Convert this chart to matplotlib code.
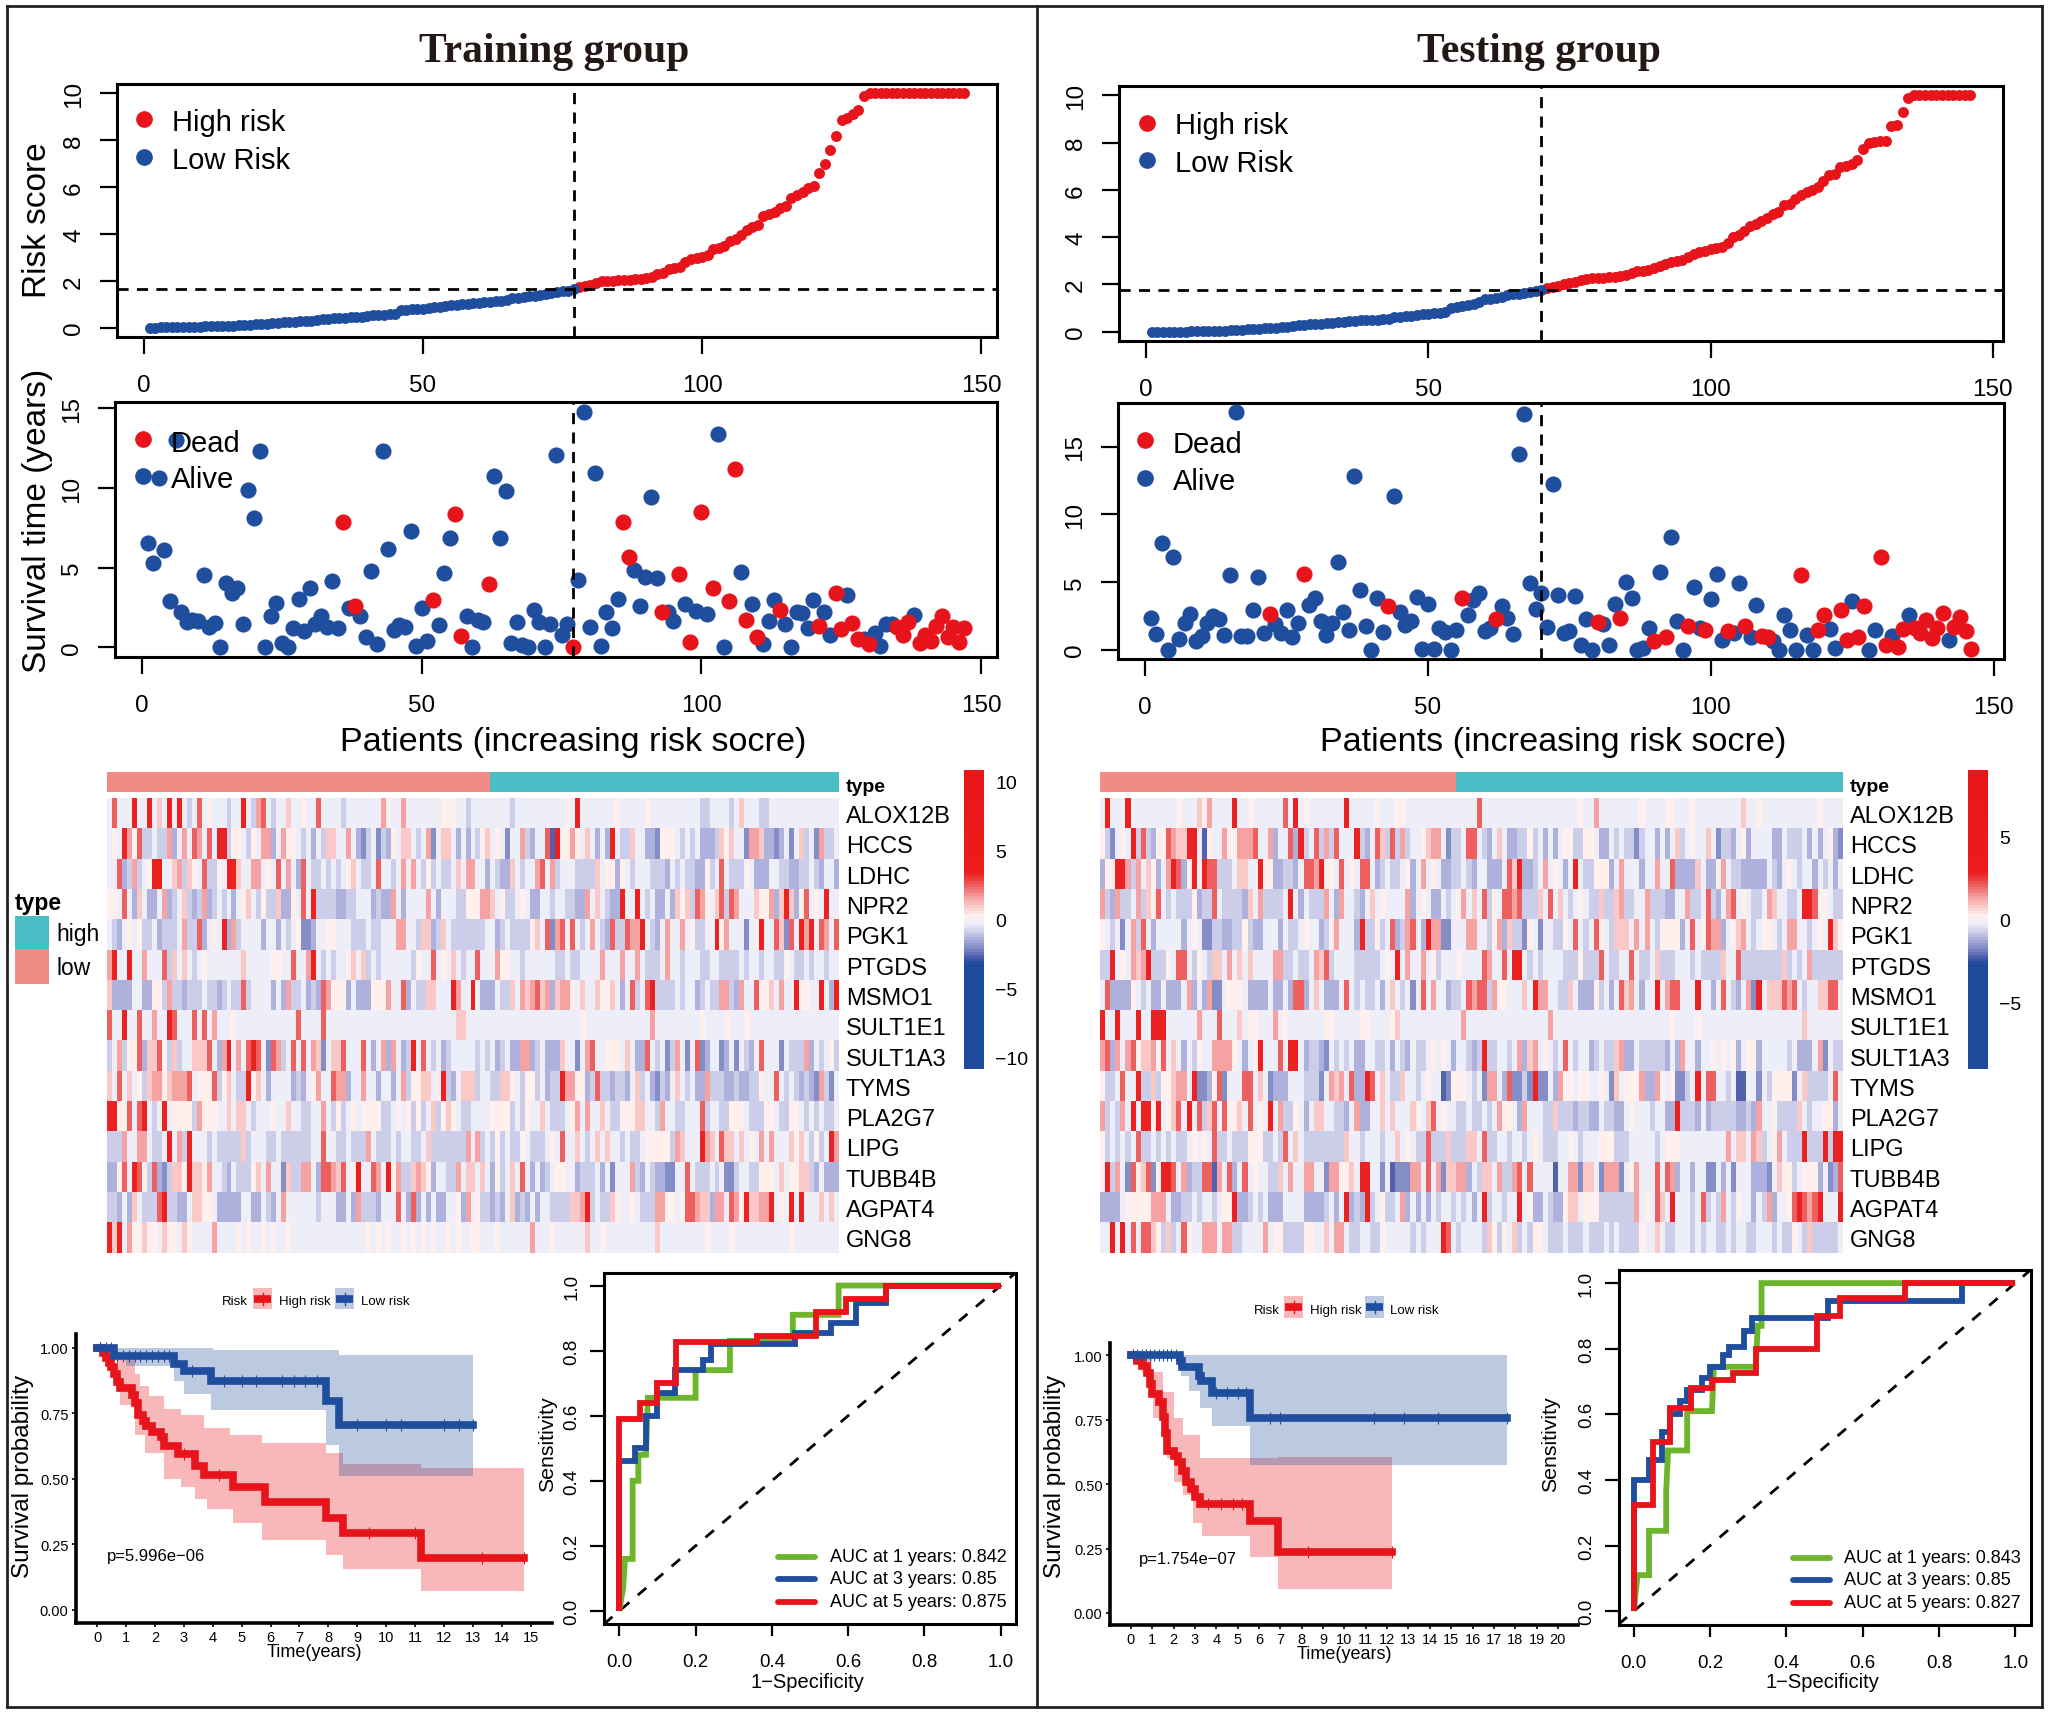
import numpy as np
import matplotlib
matplotlib.use('Agg')
import matplotlib.pyplot as plt
from matplotlib.colors import LinearSegmentedColormap
from matplotlib.lines import Line2D
from matplotlib.patches import Rectangle

plt.rcParams['font.family'] = ['Liberation Sans', 'DejaVu Sans']

W, H = 2050, 1715
RED = '#E8141C'
BLUE = '#1F4E9E'
GREEN = '#6CB52D'

genes = ['ALOX12B', 'HCCS', 'LDHC', 'NPR2', 'PGK1', 'PTGDS', 'MSMO1', 'SULT1E1',
         'SULT1A3', 'TYMS', 'PLA2G7', 'LIPG', 'TUBB4B', 'AGPAT4', 'GNG8']

# risk score curves, one value per patient
train_risk = [0.00, 0.00, 0.01, 0.01, 0.01, 0.02, 0.02, 0.03, 0.03, 0.04,
              0.05, 0.05, 0.06, 0.07, 0.08, 0.09, 0.10, 0.11, 0.12, 0.14,
              0.15, 0.17, 0.18, 0.20, 0.22, 0.24, 0.25, 0.27, 0.28, 0.30,
              0.33, 0.35, 0.37, 0.39, 0.41, 0.43, 0.44, 0.46, 0.47, 0.49,
              0.52, 0.54, 0.56, 0.58, 0.60, 0.74, 0.76, 0.78, 0.79, 0.80,
              0.85, 0.88, 0.90, 0.92, 0.95, 0.98, 1.00, 1.03, 1.05, 1.07,
              1.09, 1.10, 1.12, 1.15, 1.18, 1.25, 1.28, 1.30, 1.33, 1.36,
              1.40, 1.44, 1.48, 1.52, 1.55, 1.58, 1.63,
              1.72, 1.78, 1.84, 1.90, 1.98, 2.00, 2.01, 2.02, 2.03, 2.04,
              2.06, 2.08, 2.12, 2.18, 2.28, 2.32, 2.50, 2.55, 2.60, 2.80,
              2.92, 2.98, 3.02, 3.10, 3.35, 3.40, 3.50, 3.70, 3.80, 3.95,
              4.15, 4.30, 4.40, 4.78, 4.85, 4.95, 5.10, 5.20, 5.55, 5.65,
              5.80, 5.95, 6.03, 6.60, 7.00, 7.60, 8.20, 8.88, 8.95, 9.10,
              9.30, 9.90, 10, 10, 10, 10, 10, 10, 10, 10, 10, 10, 10, 10, 10, 10, 10, 10, 10, 10]
test_risk = [0.00, 0.00, 0.00, 0.00, 0.00, 0.00, 0.00, 0.01, 0.01, 0.01,
             0.02, 0.02, 0.03, 0.04, 0.05, 0.07, 0.08, 0.09, 0.10, 0.11,
             0.13, 0.15, 0.17, 0.19, 0.21, 0.23, 0.26, 0.28, 0.30, 0.32,
             0.34, 0.36, 0.38, 0.40, 0.42, 0.44, 0.46, 0.48, 0.49, 0.50,
             0.51, 0.52, 0.53, 0.60, 0.63, 0.66, 0.68, 0.71, 0.74, 0.76,
             0.78, 0.80, 0.84, 0.98, 1.06, 1.09, 1.12, 1.18, 1.26, 1.36,
             1.40, 1.43, 1.48, 1.55, 1.58, 1.60, 1.63, 1.66, 1.70, 1.74,
             1.84, 1.90, 1.95, 2.00, 2.05, 2.12, 2.18, 2.22, 2.25, 2.27,
             2.28, 2.30, 2.32, 2.36, 2.40, 2.46, 2.55, 2.58, 2.62, 2.70,
             2.78, 2.88, 2.95, 2.98, 3.05, 3.15, 3.28, 3.35, 3.42, 3.48,
             3.52, 3.58, 3.75, 4.02, 4.08, 4.25, 4.48, 4.55, 4.68, 4.80,
             5.00, 5.05, 5.35, 5.42, 5.60, 5.78, 5.92, 5.98, 6.12, 6.38,
             6.62, 6.68, 6.95, 7.02, 7.10, 7.28, 7.72, 8.00, 8.02, 8.05,
             8.06, 8.70, 8.75, 9.30, 9.90, 10, 10, 10, 10, 10, 10, 10, 10, 10, 10, 10]
train_cut_patient, train_cut_score = 77, 1.63
test_cut_patient, test_cut_score = 70, 1.74

# survival time per patient and which patients died
train_time = [6.55, 5.3, 10.65, 6.1, 2.9, 13.0, 2.2, 1.6, 1.7, 1.65,
              4.55, 1.3, 1.55, 0.05, 4.05, 3.4, 3.7, 1.5, 9.9, 8.1,
              12.3, 0, 2.0, 2.8, 0.3, 0, 1.2, 3.05, 1.05, 3.7,
              1.45, 2.0, 1.3, 4.2, 1.25, 7.85, 2.5, 2.6, 2.0, 0.65,
              4.8, 0.2, 12.3, 6.15, 1.1, 1.4, 1.3, 7.3, 0.1, 2.45,
              0.4, 2.95, 1.4, 4.7, 6.85, 8.35, 0.7, 2.0, 0, 1.75,
              1.6, 3.95, 10.75, 6.85, 9.8, 0.3, 1.6, 0.15, 0.05, 2.35,
              1.6, 0.05, 1.5, 12.05, 0.75, 1.5, 0.05, 4.25, 14.8, 1.3,
              10.95, 0.1, 2.25, 1.2, 3.05, 7.9, 5.7, 4.85, 2.6, 4.45,
              9.45, 4.35, 2.25, 2.25, 1.65, 4.6, 2.75, 0.35, 2.3, 8.5,
              2.1, 3.75, 13.4, 0.05, 2.9, 11.2, 4.75, 1.75, 2.7, 0.65,
              0.2, 1.65, 3.0, 2.35, 1.45, 0.05, 2.2, 2.15, 1.25, 2.95,
              1.35, 2.25, 0.75, 3.4, 1.15, 3.3, 1.55, 0.55, 0.55, 0.2,
              0.9, 0.1, 1.45, 1.45, 1.3, 0.8, 1.6, 2.05, 0.25, 0.8,
              0.4, 1.35, 1.95, 0.65, 1.3, 0.35, 1.25]
train_dead = [36, 38, 52, 56, 57, 62, 77, 86, 87, 93, 96, 98, 100, 102, 105, 106, 108, 110,
              114, 121, 124, 125, 127, 128, 130, 135, 136, 137, 139, 140, 141, 142, 143,
              144, 145, 146, 147]
test_time = [2.3, 1.15, 7.9, 0, 6.85, 0.8, 2.0, 2.6, 0.65, 1.0,
             2.0, 2.45, 2.25, 1.05, 5.55, 17.55, 1.0, 1.0, 2.95, 5.4,
             1.25, 2.65, 1.9, 1.25, 2.95, 0.95, 2.0, 5.6, 3.3, 3.85,
             2.1, 1.1, 1.95, 6.5, 2.75, 1.45, 12.85, 4.4, 1.75, 0,
             3.85, 1.3, 3.2, 11.4, 2.8, 1.8, 2.1, 3.9, 0.05, 3.35,
             0.05, 1.6, 1.3, 0, 1.45, 3.8, 2.55, 3.7, 4.2, 1.35,
             1.6, 2.25, 3.2, 2.3, 1.15, 14.45, 17.45, 4.9, 3.0, 4.15,
             1.7, 12.25, 4.05, 1.2, 1.35, 3.95, 0.35, 2.25, 0, 2.05,
             1.9, 0.3, 3.4, 2.35, 5.0, 3.8, 0, 0.1, 1.6, 0.65,
             5.75, 0.9, 8.3, 2.1, 0, 1.75, 4.6, 1.6, 1.45, 3.75,
             5.6, 0.7, 1.35, 1.2, 4.9, 1.75, 0.9, 3.3, 1.0, 0.9,
             0.65, 0, 2.55, 1.45, 0, 5.55, 1.1, 0, 1.45, 2.55,
             1.5, 0.1, 2.95, 0.7, 3.6, 0.95, 3.25, 0, 1.45, 6.85,
             0.35, 1.0, 0.2, 1.5, 2.55, 1.6, 1.25, 2.15, 0.85, 1.6,
             2.7, 0.7, 1.7, 2.4, 1.35, 0.05]
test_dead = [22, 28, 43, 56, 62, 80, 84, 90, 92, 96, 99, 103, 106, 109, 110, 116, 119, 120,
             123, 124, 126, 127, 130, 131, 133, 134, 136, 137, 138, 139, 140, 141, 143,
             144, 145, 146]

# heatmap cells, one letter per patient: d c b a are blues, . , are near zero, p q r s are reds
train_heat_left = [
    '.r...s..s. p.s.s.a.r. ,...a..s.a qr.a..p.., ..r....a.. .....q,..q .......,,, ..a.',
    '.,.sq,raa. aaqb.q.rq. r.ssa,,.a, .qqb.q,,.a .b.app..q. bca.cab,.p p.a.qc.pp. b.b.',
    '..rbaqa.,s s..pqap,.r aa,.ssp..q q.,.r.q.br .aa.a.a.,p .aa.r..a.q .q.a,a.aa. p.qq',
    ',,.r.bp.bb .qba.pabaq ba.a.b.,p. a,aapbb,.r .saaaabbaa ...babbq.b ....q.b... aa,,',
    '.ab.,.,aa. baaa.qaarb .,.sbqa... .b..b.a.,c cb..,,...a aa.aa...qq ..appbap.a aaaa',
    'qs..s..q.. .rap.p.a., .......p.. ...,,..r.. qs.a.a..,p .pa.a..... .a,..r.,.p .a..',
    'pbbbb..bb, ,aqaabaaa. aaba.aara. ...b.bqaa. babrq,,,b. bbb,,,q..r b.aapp...s q..s',
    'r..s..r..q ..sr...r.r .q...,.... ........r. ...r...... .......... .......... pp..',
    'a.qa,,rbpp r,apa..ppp r.bqs.q.rs r.crqa.r.r .qpc.ppr.. .r.b.qbq.b as.r.a.ba. ....',
    'p.r.p.,apq q,pqqqr.,, ,ra,p.aas, p.b....bab .,q..rqqb. .q..b..b.q a,,pp.,sab .ppp',
    'ss,,r.rs.a .s.,,,,aq, ,,..p.pp.a ...,..p..a a..q.a,a., .,,,,aa.,. ,a,a.pa,p, .aa.',
    'aaaq..qq.a a.s.qas... a.aaaaapa. ..aa.aaaaa a..r..aa.a aaq.aaa.a. .aa.paaaaa aaq.',
    'bb,r.sr,ar bcapp,spp, q..ab.aaa, p.q..cpaaq q.brrqpr., s..rq.s,qa apqp,b..aa q.pp',
    'aab.bp.aaa rsaabb.pp, ,.bbbbb..b b.ab.q.... ..a...bb.b qaaab...r. brb.b.bb.. ,bq.',
    'sps.q,,p,, .p,,.p,... .q....,.,. .,.,..,... .......... ..,.,.,.., .,.,.,..,. ,..,',
]
train_heat_right = [
    '.......a.. ........,. s.......,. ....,..... .....aa... .a.p...aa. .......... ...',
    'a,p.,.c..q ab..rds,,q ,.p.b.bs.a ap..bbc,,, .a.a.bbbap ,p..cqqpbb cb.c.pa.cq aa.',
    '..b.abbp.a ..qr.qa... aaaap.,,b, .a...aaab. a.aabb,a.r .aaa,.bbb. .aabbaa.ab ..b',
    ',qqp.,aa., .bb..a..aa bbq.p.abbs ..s.a.bb.b p,parq,.pr arq...p,,q bpspb,r.,. s..',
    'aa..ba.aaa a,p.rcqr.r .a.q.abraa rqqs.ab.q. .q.,aa..s, q...c.,s.. rpcr.sqs.r q.r',
    'r...q,,..a ......aa.a a....q...q ..q.aaa.q. .a...aa..a aaa.a..a.. aa,.aa.a.. a..',
    '.bbb.aap.q pqrpqbpqq, .p..p,,p.b .ra.rsaaaa .a..ba.aaq qabq..r,,p .q..s,,..s .bs',
    '.......... .......... .,........ .....q.... .....,.... ,...,..... .......... ...',
    'a.a.ba.bbq qba.bbbp.. c.qr..,,,. p.bbr.a.ca q.c.rcb..c b.c.ab.r.. .c.aaaqb.a .,a',
    'a..aapp,.a ,,a.baasqq ,,baraabaa b.pa.bcab. p.a.bbqaaa bbabbaa,.. r.a.ababcq ac.',
    '...,,,,a.a ,..p.aaa., q.q..p.aa, ,,pp..aq.. aa...ra..a a,,,.aaa,, .aa,,.a.a. aa.',
    'qa.a,a.aa, .aaa.,.r.. p.a.p.p..a .aa.,,,,,a qp...sqp.r pp.p.,.q.q ...p,p.a,a .sq',
    '.p.b,a.p.r .b.ba.,,.. baaa.b.c.. .qab.abbcc ..r.aaa.a. cca..aa,,, .p.,,ppab. bbb',
    ',aabab.pba b.b..aaaap pqsa.aap,. .,.aaaqq,, .,rrqppbqq .rq,sppqqs .,.s.s...p .p.',
    ',...,..... .q...,.... ..p..,.... ......p... ......,... .,........ ...,...... ...',
]
test_heat_left = [
    '.s...s.... .....,...p ,q....s.., ......r.s. ,.......s. ....,...,, .......... ....r',
    ',ac.,.sara b,,rqppss. d,..q,,qqq r..qb..rbs a.raqar... sab.rparaq a..,pqq.ca a.rr.',
    'b,,ssqaq.p ,b.qsrb,s, srraaa.pp. .s,,bbaab. rrqs,,.r., .rr.ba.aa. ,b.q.,.bba a.ab.',
    'qabqaa.qap ,r.a.aaa,b aar.aaaabp .qaaaa.s.b .aaaq.bq.. ab.p.,.... qb.,.bb.a. ,q.p.',
    ',.a.c.qar. b.....b.,. ccaabbaa,a bb...b.aa. ,..ba,q... bsaa,a.rba qr.bsqqcc. ..qq.',
    'aas.,.qpqs aaa,.rr.a, .app.q.p.p ....qqaa.a a.qpra.... aaaaa.,.s. q..q.,a... ,....',
    '.rbbbb,.a. bb.bbb.qb. bqcc.,,,.b bbb.bb.brr b.p.bbb.r. a.aa.b.p.a .c.r.q..ba a.rqr',
    's..s...s.. sss......q ...r...p., ,...q.,... ....,,.... .,,....,p. .......... .q...',
    'qrbq.qr,pp q,r.p.b.a, ..qqqq,.b. ,s...r.ss. baabc.a.a. bb..aa.b.a b.aa.,.,.b ..aba',
    ',aa.r..saa pa,,pqq.sc cb,rc...rr .p.cbbb... aaac.qpq.r bbsr.p.aap ..a.,..dc, ,,.a.',
    'qa.aq.s.ss ,s.,pr.s.r apr.r,,p.r .,.s.qaa,. b.pp..aab. qbb..p.p.. .p,.pr.,.. aa.aa',
    ',a.a.a.raa .a.a.aa.,. ,.raa.aaa, ,,aa.ar.p. aaaaaaaap. .a...a..p. ,.aaraaapa aapp.',
    ',saq.cr,pr c,ssr.qbaa rrdq.rb.r. ,..aap.q.. qq..cqq,,p .ss..c.dcc cqq.r.qcpp qqb.a',
    'bbbb.,,,,, qqq.bbaa.a ..a.,,sbba .a.bbb.... bbbba.b.sb absa.,aa.q b.b.b.a..a .a.b.',
    '..s.s.r.rr p,apa.r,.. qqq.qqaa.. ..q.,,aaaa ,,..p.qq.a a..aa,.... .a.a...sr. a....',
]
test_heat_right = [
    '.......... .........,  ..q....... .,....,,.. .,........ .p..,..... ......,... .',
    'ab.p.bbaa, a.b.b.,,aa ,,.bb.a.aa ca..b.b.pa .,..p.caab .,b....bb. aaa.b.b.,b c',
    '.bbb.rpsbb a.q.,.b.s. aa,,,b.q.. .b..q..rbb bbp.bb,q.a abbbbb.ab. ,.a..b.a.b .',
    'ra,.rrqraa ap.r.p.a., .aapaapqaa ..qaaabb.. qaa.rab.qr .,.aa.qp.. aa.ssr,,.a a',
    '.a,qbpaac, .c..aa,.r. a.r,.appp. q.q.a,,,,b .r.,rqqb., pq.a.,,.a. qq..a.,.sp ,',
    'rq..r.ss.a .a....aaa, aaar.aa..r .aa.paaa.. .a.aaaap.. raaaaaaaap a.a.qaaaaa a',
    'raq,,...p. sqq..aap.b bb,a.b.rpq .b..s.qrr. ..s..b.r.a b.qcs.pppr qr.a..pprr .',
    '.......... ...q...... .......... .......,.. ..,....... .......... ...p...... .',
    'saa..a.qbp q.,.a.r.a. .ba.aapqbb .aaaaab.bq ..b..,.,., b.,,b..... a.bbb.qc.a a',
    'cqq.brccac scc.bq,,., ,..,.cp.,, ,qbbq,.,cc a.s.rr..a. dd..c.a,,, ,c.paaaa.r .',
    '.a.q,,.bq. ..aapaaaba abb.aabb., ...a..bbsa aab.baaaaa bbabq..,aa aap.a..,,b .',
    'raa..a..a. ,.aaa..,.a ...,,,aaa. ....a.,,,. ........q. pp.qpa.,q. aaasaaasas s',
    'pp.qaaqr.r ....d..qqc pp.cqqqc., q...r.rqb. .b..cc.b.c ...bbbc.p, ,a.,,,b.cb r',
    'sa..a..s., bb.abb,pp. ,,,aaaaaaa q.,.rp.s.. .a.ra.aq.a ,..b.aqb.. ,rsrqrs... s',
    'ap,a,.pa.a ,,.aaa.aaa .aaa.a.aaa a,..p.aa.. .a.a..aa.a ..aa...a.a a,.apaaaaa .',
]
# level of each letter as a share of the colour bar half range
heat_codes = ['d', 'c', 'b', 'a', '.', ',', 'p', 'q', 'r', 's']
heat_levels = [-0.26, -0.20, -0.14, -0.09, -0.03, 0.03, 0.09, 0.15, 0.22, 0.32]
heat_colors = ['#4A5CAB', '#8088C4', '#A7ABD8', '#CDCEE8', '#EEEEF8',
               '#FFF0EE', '#FAC9C8', '#F5A3A3', '#EE6A6A', '#EC1C1C']
train_low_count, test_low_count = 77, 70

# Kaplan-Meier steps: time then survival
train_high_t = [0, 0.2, 0.3, 0.4, 0.5, 0.6, 0.7, 0.8, 1.2, 1.3, 1.4, 1.6, 1.7, 1.9, 2.2, 2.3, 2.8, 3.4, 3.7, 4.7, 5.8, 7.9, 8.5, 11.2]
train_high_s = [1.0, 0.98, 0.96, 0.94, 0.925, 0.90, 0.87, 0.845, 0.82, 0.79, 0.745, 0.72, 0.70, 0.68, 0.66, 0.625, 0.595, 0.55, 0.515, 0.468, 0.41, 0.352, 0.294, 0.197]
train_high_up_t = [0, 0.7, 1.3, 1.5, 1.8, 2.3, 2.9, 3.7, 4.6, 5.7, 7.9, 8.5, 11.2]
train_high_up = [1.0, 0.97, 0.90, 0.855, 0.815, 0.765, 0.742, 0.693, 0.667, 0.635, 0.597, 0.558, 0.542]
train_high_lo_t = [0, 0.3, 0.7, 0.8, 1.3, 1.65, 2.3, 2.9, 3.4, 3.8, 4.7, 5.7, 7.9, 8.5, 11.2]
train_high_lo = [1.0, 0.95, 0.83, 0.78, 0.667, 0.60, 0.50, 0.468, 0.423, 0.384, 0.332, 0.265, 0.21, 0.156, 0.072]
train_low_t = [0, 0.6, 2.66, 3.0, 3.95, 7.9, 8.35]
train_low_s = [1.0, 0.97, 0.938, 0.912, 0.871, 0.796, 0.706]
train_low_up_t = [0, 4.0, 8.35]
train_low_up = [1.0, 0.992, 0.973]
train_low_lo_t = [0, 0.4, 1.0, 2.66, 3.0, 3.95, 7.9, 8.35]
train_low_lo = [1.0, 0.965, 0.93, 0.873, 0.822, 0.764, 0.63, 0.51]
train_high_end, train_low_end = 14.75, 13.0
train_high_cens = [0.1, 3.0, 4.2, 9.4, 11.0, 13.3, 14.75]
train_low_cens = [0.1, 0.3, 0.5, 0.7, 0.9, 1.1, 1.3, 1.5, 1.7, 1.9, 2.1, 2.3, 2.5, 3.3, 4.4, 5.0, 5.5, 6.4, 6.8, 7.2, 7.6,
                  9.0, 10.0, 10.5, 12.0, 12.5, 13.0]
test_high_t = [0, 0.3, 0.5, 0.75, 0.9, 1.0, 1.3, 1.5, 1.6, 1.7, 2.0, 2.2, 2.4, 2.6, 2.8, 3.0, 3.25, 5.6, 6.9]
test_high_s = [1.0, 0.98, 0.96, 0.93, 0.89, 0.85, 0.82, 0.76, 0.70, 0.63, 0.61, 0.585, 0.55, 0.51, 0.48, 0.45, 0.423, 0.358, 0.237]
test_high_up_t = [0, 1.0, 1.5, 2.0, 2.45, 3.25, 6.9]
test_high_up = [1.0, 0.935, 0.856, 0.757, 0.69, 0.60, 0.604]
test_high_lo_t = [0, 0.5, 1.05, 1.7, 2.0, 2.45, 2.9, 3.35, 5.6, 6.9]
test_high_lo = [1.0, 0.93, 0.757, 0.60, 0.508, 0.456, 0.35, 0.30, 0.216, 0.093]
test_low_t = [0, 2.3, 2.4, 3.2, 3.3, 3.8, 5.6]
test_low_s = [1.0, 0.98, 0.954, 0.92, 0.90, 0.852, 0.757]
test_low_up_t = [0]
test_low_up = [1.0]
test_low_lo_t = [0, 2.35, 2.7, 3.25, 3.8, 5.6]
test_low_lo = [1.0, 0.92, 0.862, 0.797, 0.725, 0.575]
test_high_end, test_low_end = 12.25, 17.6
test_high_cens = [0.1, 3.6, 4.2, 4.8, 5.2, 8.3, 12.25]
test_low_cens = [0.1, 0.3, 0.5, 0.7, 0.9, 1.1, 1.3, 1.5, 1.7, 1.9, 2.1, 4.0, 4.5, 5.0, 5.4, 6.5, 7.0, 11.4, 12.8, 14.4, 17.6]

# ROC curves: false positive rate then sensitivity
train_roc1_x = [0, 0.01, 0.015, 0.035, 0.035, 0.05, 0.05, 0.07, 0.075, 0.2, 0.2, 0.29, 0.29, 0.455, 0.455, 0.575, 0.575, 1]
train_roc1_y = [0, 0.07, 0.16, 0.16, 0.40, 0.40, 0.48, 0.48, 0.655, 0.655, 0.74, 0.74, 0.83, 0.83, 0.91, 0.91, 1, 1]
train_roc3_x = [0, 0, 0.04, 0.04, 0.07, 0.07, 0.1, 0.1, 0.145, 0.145, 0.22, 0.22, 0.24, 0.24, 0.46, 0.46, 0.555, 0.555, 0.62, 0.62, 0.70, 0.70, 1]
train_roc3_y = [0, 0.46, 0.46, 0.5, 0.5, 0.6, 0.6, 0.67, 0.67, 0.74, 0.74, 0.77, 0.77, 0.82, 0.82, 0.855, 0.855, 0.885, 0.885, 0.945, 0.945, 1, 1]
train_roc5_x = [0, 0, 0.055, 0.055, 0.1, 0.1, 0.15, 0.15, 0.36, 0.36, 0.515, 0.515, 0.595, 0.595, 0.70, 0.70, 1]
train_roc5_y = [0, 0.59, 0.59, 0.64, 0.64, 0.70, 0.70, 0.825, 0.825, 0.845, 0.845, 0.92, 0.92, 0.96, 0.96, 1, 1]
test_roc1_x = [0, 0.01, 0.04, 0.04, 0.085, 0.085, 0.09, 0.14, 0.14, 0.205, 0.21, 0.32, 0.325, 0.335, 0.335, 1]
test_roc1_y = [0, 0.11, 0.11, 0.245, 0.245, 0.365, 0.49, 0.49, 0.61, 0.61, 0.745, 0.745, 0.87, 0.87, 1, 1]
test_roc3_x = [0, 0, 0.04, 0.04, 0.075, 0.075, 0.095, 0.095, 0.12, 0.12, 0.14, 0.14, 0.18, 0.18, 0.2, 0.2, 0.235, 0.235, 0.25, 0.25, 0.29, 0.29, 0.31, 0.31, 0.51, 0.51, 0.86, 0.86, 1]
test_roc3_y = [0, 0.40, 0.40, 0.46, 0.46, 0.545, 0.545, 0.60, 0.60, 0.64, 0.64, 0.675, 0.675, 0.71, 0.71, 0.745, 0.745, 0.78, 0.78, 0.805, 0.805, 0.855, 0.855, 0.895, 0.895, 0.945, 0.945, 1, 1]
test_roc5_x = [0, 0, 0.05, 0.05, 0.095, 0.095, 0.15, 0.15, 0.205, 0.205, 0.26, 0.26, 0.32, 0.32, 0.48, 0.48, 0.54, 0.54, 0.71, 0.71, 1]
test_roc5_y = [0, 0.325, 0.325, 0.515, 0.515, 0.62, 0.62, 0.68, 0.68, 0.705, 0.705, 0.725, 0.725, 0.80, 0.80, 0.90, 0.90, 0.955, 0.955, 1, 1]


fig = plt.figure(figsize=(W / 100, H / 100), dpi=100)


def px_axes(left, top, right, bottom):
    """Axes from a box given in image pixels."""
    return fig.add_axes([left / W, 1 - bottom / H, (right - left) / W, (bottom - top) / H])


def px_text(x, y, s, size, ha='left', rotation=0, **kwargs):
    # matplotlib centres on the box with descender, so nudge toward the glyphs
    if rotation:
        x += 3
    else:
        y += 3
    fig.text(x / W, 1 - y / H, s, fontsize=size, ha=ha, va='center', rotation=rotation, **kwargs)


def px_line(xs, ys, **kwargs):
    fig.add_artist(Line2D([x / W for x in xs], [1 - y / H for y in ys], **kwargs))


def px_dot(x, y, color):
    px_line([x], [y], marker='o', markersize=11, color=color, linestyle='none')


def r_style(ax, xticks, yticks):
    """Base R look: box, long outward ticks, rotated y labels."""
    ax.set_xticks(xticks)
    ax.set_yticks(yticks)
    ax.tick_params(axis='both', length=12, width=1.6, labelsize=17.5)
    ax.tick_params(axis='x', pad=15)
    ax.tick_params(axis='y', pad=11, labelrotation=90)
    for label in ax.get_yticklabels():
        label.set_va('center')
    for spine in ax.spines.values():
        spine.set_linewidth(2.2)


def risk_panel(box, risk, cut_patient, cut_score, xlim, legend_x, legend_y):
    ax = px_axes(*box)
    patients = np.arange(1, len(risk) + 1)
    values = np.array(risk)
    low = patients <= cut_patient
    ax.scatter(patients[~low], values[~low], s=62, color=RED, linewidths=0, zorder=3)
    ax.scatter(patients[low], values[low], s=62, color=BLUE, linewidths=0, zorder=3)
    ax.axvline(cut_patient, color='black', lw=2, linestyle=(0, (4, 3)), zorder=4)
    ax.axhline(cut_score, color='black', lw=2, linestyle=(0, (4, 3)), zorder=4)
    ax.set_xlim(*xlim)
    ax.set_ylim(-0.4, 10.4)
    r_style(ax, [0, 50, 100, 150], [0, 2, 4, 6, 8, 10])
    px_dot(legend_x, legend_y[0], RED)
    px_dot(legend_x, legend_y[1], BLUE)
    px_text(legend_x + 28, legend_y[0], 'High risk', 21)
    px_text(legend_x + 28, legend_y[1], 'Low Risk', 21)


def survival_panel(box, times, dead, xlim, ylim, yticks):
    ax = px_axes(*box)
    patients = np.arange(1, len(times) + 1)
    values = np.array(times)
    is_dead = np.isin(patients, dead)
    ax.scatter(patients[~is_dead], values[~is_dead], s=135, color=BLUE, linewidths=0, zorder=3)
    ax.scatter(patients[is_dead], values[is_dead], s=135, color=RED, linewidths=0, zorder=3)
    ax.set_xlim(*xlim)
    ax.set_ylim(*ylim)
    r_style(ax, [0, 50, 100, 150], yticks)
    return ax


def heat_matrix(left_rows, right_rows, n_left, n_right):
    level_of = dict(zip(heat_codes, heat_levels))
    rows = []
    for left, right in zip(left_rows, right_rows):
        a = left.replace(' ', '').ljust(n_left, '.')[:n_left]
        b = right.replace(' ', '').ljust(n_right, '.')[:n_right]
        rows.append([level_of[c] for c in a + b])
    return np.array(rows)


def heatmap_panel(x0, x1, cbar_x, data, vmax, low_count, cbar_ticks):
    cmap = LinearSegmentedColormap.from_list(
        'heat',
        [(0, '#1E4A9C'), ((-0.30 + 1) / 2, '#1E4A9C')]
        + [((lev + 1) / 2, col) for lev, col in zip(heat_levels, heat_colors)]
        + [(1, '#E8161A')],
        N=100)
    ax = px_axes(x0, 799, x1, 1253.5)
    mesh = ax.pcolormesh(data * vmax, cmap=cmap, vmin=-vmax, vmax=vmax)
    ax.invert_yaxis()
    ax.axis('off')

    # risk group strip above the heatmap
    strip = px_axes(x0, 773, x1, 793)
    n = data.shape[1]
    strip.barh(0, low_count, left=0, height=1, color='#F08C85')
    strip.barh(0, n - low_count, left=low_count, height=1, color='#4ABEC5')
    strip.set_xlim(0, n)
    strip.set_ylim(-0.5, 0.5)
    strip.axis('off')
    px_text(x1 + 7, 784, 'type', 14, fontweight='bold')

    row_h = (1253.5 - 799) / len(genes)
    for i, gene in enumerate(genes):
        px_text(x1 + 7, 799 + (i + 0.5) * row_h, gene, 17)

    cax = px_axes(cbar_x, 771, cbar_x + 20, 1070)
    cb = fig.colorbar(mesh, cax=cax, ticks=cbar_ticks)
    cb.outline.set_visible(False)
    cb.ax.tick_params(length=0, labelsize=14, pad=8)


def km_panel(box, xlim, ylim, xticks, curves):
    ax = px_axes(*box)
    for c in curves:
        grid = np.unique(c['up_t'] + c['lo_t'] + [c['end']])
        up = np.array(c['up'])[np.searchsorted(c['up_t'], grid, side='right') - 1]
        lo = np.array(c['lo'])[np.searchsorted(c['lo_t'], grid, side='right') - 1]
        ax.fill_between(grid, lo, up, step='post', color=c['color'], alpha=0.3, linewidth=0)
    for c in curves:
        ts = c['t'] + [c['end']]
        ss = c['s'] + [c['s'][-1]]
        ax.step(ts, ss, where='post', color=c['color'], lw=5.5, solid_joinstyle='miter')
        cens = np.array(c['cens'])
        cens_s = np.array(c['s'])[np.searchsorted(c['t'], cens, side='right') - 1]
        ax.plot(cens, cens_s, linestyle='none', marker='|', markersize=9,
                markeredgewidth=0.8, color=c['color'])
    ax.set_xlim(*xlim)
    ax.set_ylim(*ylim)
    ax.set_xticks(xticks)
    ax.set_yticks([0, 0.25, 0.5, 0.75, 1])
    ax.set_yticklabels(['0.00', '0.25', '0.50', '0.75', '1.00'])
    ax.tick_params(length=3, width=1.2, labelsize=10.5, pad=2)
    ax.tick_params(axis='x', pad=2)
    ax.spines['top'].set_visible(False)
    ax.spines['right'].set_visible(False)
    ax.spines['left'].set_linewidth(2.6)
    ax.spines['bottom'].set_linewidth(2.6)


def km_legend(x_risk, x_box1, x_text1, x_box2, x_text2, y0, y1):
    ym = (y0 + y1) / 2
    px_text(x_risk, ym, 'Risk', 9.5)
    for bx, color in [(x_box1, RED), (x_box2, BLUE)]:
        fig.add_artist(Rectangle((bx / W, 1 - y1 / H), 19 / W, (y1 - y0) / H,
                                 transform=fig.transFigure, color=color, alpha=0.3, lw=0))
        px_line([bx + 1, bx + 18], [ym, ym], color=color, lw=5.5, solid_capstyle='butt')
        px_line([bx + 9.5, bx + 9.5], [ym - 6, ym + 6], color=color, lw=1)
    px_text(x_text1, ym, 'High risk', 9.5)
    px_text(x_text2, ym, 'Low risk', 9.5)


def roc_panel(box, xlim, ylim, rocs, aucs, legend_line, legend_y):
    ax = px_axes(*box)
    ax.plot([-0.04, 1.04], [-0.04, 1.04], color='black', lw=2, linestyle=(0, (4, 4)))
    for (x, y), color in zip(rocs, [GREEN, BLUE, RED]):
        ax.plot(x, y, color=color, lw=4.2, solid_joinstyle='miter', solid_capstyle='butt')
    ax.set_xlim(*xlim)
    ax.set_ylim(*ylim)
    ticks = [0, 0.2, 0.4, 0.6, 0.8, 1.0]
    ax.set_xticks(ticks)
    ax.set_yticks(ticks)
    ax.tick_params(axis='x', length=8.6, width=1.6, labelsize=13.5, pad=12)
    ax.tick_params(axis='y', length=10, width=1.6, labelsize=13.5, pad=7, labelrotation=90)
    for label in ax.get_yticklabels():
        label.set_va('center')
    for spine in ax.spines.values():
        spine.set_linewidth(2.2)
    for year, auc, y, color in zip([1, 3, 5], aucs, legend_y, [GREEN, BLUE, RED]):
        px_line(legend_line[:2], [y, y], color=color, lw=4.2, solid_capstyle='round')
        px_text(legend_line[2], y - 3, f'AUC at {year} years: {auc}', 13)


def main():
    # frame around both groups
    for xs, ys in [([6.5, 2042], [7, 7]), ([6.5, 2042], [1708, 1708]), ([6.5, 6.5], [7, 1708]),
                   ([1037, 1037], [7, 1708]), ([2042, 2042], [7, 1708])]:
        px_line(xs, ys, color='#222222', lw=2)

    px_text(554, 49, 'Training group', 30, ha='center', family='Liberation Serif', fontweight='bold', color='#231815')
    px_text(1539, 49, 'Testing group', 30, ha='center', family='Liberation Serif', fontweight='bold', color='#231815')

    train_xlim = (-4.84, 152.84)
    test_xlim = (-4.8, 151.8)
    risk_panel((117, 85, 997, 338), train_risk, train_cut_patient, train_cut_score, train_xlim, 144, (120, 158))
    risk_panel((1119, 87, 2003, 342), test_risk, test_cut_patient, test_cut_score, test_xlim, 1147, (123.5, 160.5))
    px_text(35, 220, 'Risk score', 24, ha='center', rotation=90)

    ax = survival_panel((115, 403, 997, 658), train_time, train_dead, train_xlim, (-0.6, 15.4), [0, 5, 10, 15])
    ax.axvline(train_cut_patient, color='black', lw=2, linestyle=(0, (4, 3)), zorder=4)
    px_dot(142.5, 440, RED)
    px_dot(142.5, 477, BLUE)
    px_text(171, 441, 'Dead', 21)
    px_text(171, 477, 'Alive', 21)
    px_text(35, 521, 'Survival time (years)', 24, ha='center', rotation=90)
    px_text(573, 739, 'Patients (increasing risk socre)', 24.6, ha='center')

    ax = survival_panel((1118, 404, 2004, 660), test_time, test_dead, test_xlim, (-0.7, 18.25), [0, 5, 10, 15])
    ax.axvline(test_cut_patient, color='black', lw=2, linestyle=(0, (4, 3)), zorder=4)
    px_dot(1145, 441, RED)
    px_dot(1145, 479, BLUE)
    px_text(1173, 442, 'Dead', 21)
    px_text(1173, 479, 'Alive', 21)
    px_text(1553.5, 739, 'Patients (increasing risk socre)', 24.6, ha='center')

    # heatmaps
    train_matrix = heat_matrix(train_heat_left, train_heat_right, 74, 73)
    test_matrix = heat_matrix(test_heat_left, test_heat_right, 75, 71)
    heatmap_panel(107, 839, 964, train_matrix, 10.8, train_low_count, [-10, -5, 0, 5, 10])
    heatmap_panel(1100, 1843, 1968, test_matrix, 9.0, test_low_count, [-5, 0, 5])

    px_text(15, 901, 'type', 16.5, fontweight='bold')
    fig.add_artist(Rectangle((15 / W, 1 - 950 / H), 34 / W, 33 / H, transform=fig.transFigure, color='#4ABEC5', lw=0))
    fig.add_artist(Rectangle((15 / W, 1 - 985 / H), 34 / W, 35 / H, transform=fig.transFigure, color='#F08C85', lw=0))
    px_text(56, 932, 'high', 16.5)
    px_text(56, 966, 'low', 16.5)

    # survival curves
    km_panel((75.5, 1335, 552, 1624), (-0.744, 15.73), (-0.05, 1.052), list(range(16)), [
        dict(t=train_high_t, s=train_high_s, up_t=train_high_up_t, up=train_high_up, lo_t=train_high_lo_t,
             lo=train_high_lo, end=train_high_end, cens=train_high_cens, color=RED),
        dict(t=train_low_t, s=train_low_s, up_t=train_low_up_t, up=train_low_up, lo_t=train_low_lo_t,
             lo=train_low_lo, end=train_low_end, cens=train_low_cens, color=BLUE)])
    km_panel((1109.5, 1343.5, 1578, 1626), (-1.0, 20.94), (-0.047, 1.05), list(range(21)), [
        dict(t=test_high_t, s=test_high_s, up_t=test_high_up_t, up=test_high_up, lo_t=test_high_lo_t,
             lo=test_high_lo, end=test_high_end, cens=test_high_cens, color=RED),
        dict(t=test_low_t, s=test_low_s, up_t=test_low_up_t, up=test_low_up, lo_t=test_low_lo_t,
             lo=test_low_lo, end=test_low_end, cens=test_low_cens, color=BLUE)])
    px_text(20, 1476, 'Survival probability', 17.5, ha='center', rotation=90)
    px_text(1052, 1476, 'Survival probability', 17.5, ha='center', rotation=90)
    px_text(314, 1650, 'Time(years)', 13, ha='center')
    px_text(1344, 1652, 'Time(years)', 13, ha='center')
    px_text(106.5, 1554, 'p=5.996e\u221206', 12)
    px_text(1138.5, 1557, 'p=1.754e\u221207', 12)
    km_legend(222, 253, 279, 335, 361, 1289, 1310)
    km_legend(1254, 1284, 1310, 1365, 1390, 1297, 1318.5)

    # ROC curves
    roc_panel((604, 1273.5, 1016, 1625), (-0.04, 1.04), (-0.04, 1.04),
              [(train_roc1_x, train_roc1_y), (train_roc3_x, train_roc3_y), (train_roc5_x, train_roc5_y)],
              ['0.842', '0.85', '0.875'], (778, 815, 830), (1558, 1580, 1603))
    roc_panel((1618.5, 1271, 2030.5, 1626), (-0.04, 1.04), (-0.042, 1.04),
              [(test_roc1_x, test_roc1_y), (test_roc3_x, test_roc3_y), (test_roc5_x, test_roc5_y)],
              ['0.843', '0.85', '0.827'], (1792.5, 1830, 1844.5), (1559, 1581, 1604))
    px_text(545, 1444, 'Sensitivity', 15.3, ha='center', rotation=90)
    px_text(1548, 1444, 'Sensitivity', 15.3, ha='center', rotation=90)
    px_text(807, 1680, '1\u2212Specificity', 14.5, ha='center')
    px_text(1822, 1680, '1\u2212Specificity', 14.5, ha='center')

    fig.savefig('out.png', dpi=100)


if __name__ == "__main__":
    main()
